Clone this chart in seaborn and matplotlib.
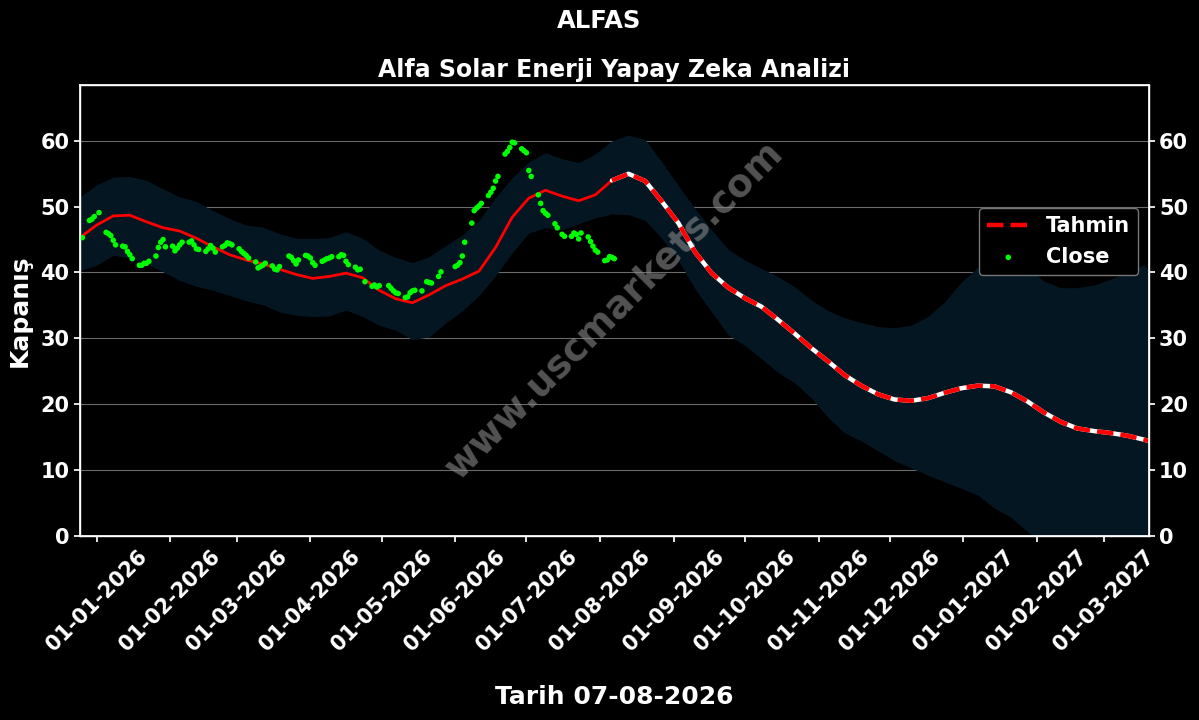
import numpy as np
import pandas as pd
import matplotlib
matplotlib.use("Agg")
import matplotlib.pyplot as plt
import matplotlib.dates as mdates
import seaborn as sns

# ---------------- data ----------------
title_main = "ALFAS"
title_sub = "Alfa Solar Enerji Yapay Zeka Analizi"
x_label = "Tarih 07-08-2026"
y_label = "Kapanış"
watermark = "www.uscmarkets.com"
forecast_label = "Tahmin"
close_label = "Close"

forecast_start = "2026-08-06"
band_dates = list(pd.date_range("2025-12-25", periods=65, freq="7D")) + [pd.Timestamp("2027-03-20")]

pred_values = [
    45.3, 47.2, 48.6, 48.7, 47.7, 46.8, 46.3, 45.2, 43.9, 42.7,
    41.9, 41.3, 40.5, 39.7, 39.1, 39.4, 39.9, 39.2, 37.3, 36.0,
    35.4, 36.6, 38.0, 39.0, 40.2, 43.8, 48.4, 51.3, 52.5, 51.6,
    50.9, 51.8, 54.0, 55.0, 53.9, 50.8, 47.5, 43.1, 39.9, 37.7,
    36.1, 34.8, 32.8, 30.7, 28.5, 26.5, 24.4, 22.8, 21.5, 20.7,
    20.5, 20.9, 21.7, 22.4, 22.8, 22.7, 21.8, 20.4, 18.7, 17.3,
    16.3, 15.9, 15.6, 15.2, 14.6, 14.4,
]
upper_values = [
    51.5, 53.3, 54.5, 54.6, 54.0, 52.7, 51.5, 50.8, 49.4, 48.2,
    47.2, 46.9, 45.9, 45.2, 45.2, 45.3, 46.2, 45.2, 43.4, 42.3,
    41.5, 42.4, 44.1, 45.7, 47.9, 51.4, 54.4, 56.8, 58.2, 57.3,
    56.7, 58.0, 60.0, 60.9, 60.2, 56.8, 53.2, 49.7, 46.5, 43.5,
    41.9, 40.6, 39.4, 37.8, 35.8, 34.2, 33.1, 32.4, 31.8, 31.6,
    32.0, 33.3, 35.5, 38.5, 40.8, 42.1, 42.0, 40.7, 38.7, 37.7,
    37.7, 38.1, 39.0, 40.0, 41.2, 40.3,
]
lower_values = [
    40.3, 41.1, 42.6, 42.2, 41.3, 40.1, 38.8, 37.9, 37.3, 36.5,
    35.7, 35.1, 34.0, 33.5, 33.3, 33.4, 34.3, 33.3, 32.0, 31.2,
    29.8, 30.2, 32.3, 34.2, 36.5, 39.5, 43.0, 46.0, 46.8, 46.5,
    47.4, 48.3, 48.9, 48.8, 47.9, 45.2, 41.8, 37.5, 34.0, 30.5,
    28.9, 26.9, 24.8, 23.2, 20.9, 18.0, 15.6, 14.4, 12.9, 11.4,
    10.3, 9.2, 8.2, 7.2, 6.2, 4.2, 2.8, 0.6, -1.5, -3.0,
    -4.5, -5.5, -6.5, -7.5, -8.5, -8.8,
]

close_holidays = ["2026-01-01", "2026-03-20", "2026-04-23", "2026-05-01", "2026-05-19",
                  "2026-05-27", "2026-05-28", "2026-05-29", "2026-07-15"]
close_dates = pd.bdate_range("2025-12-26", "2026-08-07").difference(pd.DatetimeIndex(close_holidays))
close_values = [
    # Dec
    45.3, 47.9, 48.1, 48.5,
    # Jan
    49.1, 46.1, 45.9, 45.6, 44.9, 44.2, 44.0, 43.9, 43.2, 42.7, 42.1,
    41.1, 41.1, 41.4, 41.4, 41.7, 42.5, 43.8, 44.6, 45.0, 43.9,
    # Feb
    44.0, 43.3, 43.7, 44.2, 44.6, 44.6, 44.8, 44.2, 43.6, 43.5,
    43.2, 43.6, 44.1, 43.7, 43.1, 43.9, 44.1, 44.5, 44.4, 44.2,
    # Mar
    43.6, 43.2, 42.9, 42.6, 42.2, 41.6, 40.7, 40.9, 41.1, 41.4,
    41.0, 40.5, 40.4, 40.9, 42.5, 42.3, 41.8, 41.3, 41.9, 42.6, 42.5,
    # Apr
    42.2, 41.5, 41.1, 41.7, 41.9, 42.1, 42.2, 42.4, 42.4, 42.7,
    42.6, 41.7, 41.2, 40.8, 40.4, 40.5, 38.6, 37.9, 38.1, 37.8, 38.0,
    # May
    38.0, 37.6, 37.2, 36.9, 36.8, 36.2, 36.3, 36.9, 37.2, 37.3,
    37.2, 38.6, 38.5, 38.4, 39.4, 40.1,
    # Jun
    40.9, 41.1, 41.5, 42.5, 44.6, 47.5, 49.4, 49.8, 50.1, 50.5, 51.7,
    52.2, 52.8, 53.9, 54.6, 58.0, 58.4, 59.0, 59.8, 59.7, 58.8, 58.5,
    # Jul
    58.2, 55.5, 54.6, 51.8, 50.5, 49.4, 49.0, 48.7, 47.4, 46.8, 45.8,
    45.5, 45.5, 46.0, 45.8, 45.1, 46.0, 45.4, 44.7, 44.0, 43.4, 43.1,
    # Aug
    41.8, 41.9, 42.4, 42.3, 42.1,
]

y_ticks = [0, 10, 20, 30, 40, 50, 60]
y_limits = (0, 68.5)
x_limits = (pd.Timestamp("2025-12-25"), pd.Timestamp("2027-03-20"))

# ---------------- style ----------------
sns.set_theme(style="dark", rc={
    "axes.facecolor": "black",
    "figure.facecolor": "black",
    "axes.edgecolor": "white",
    "text.color": "white",
    "axes.labelcolor": "white",
    "xtick.color": "white",
    "ytick.color": "white",
})
plt.rcParams["font.family"] = ["DejaVu Sans"]
plt.rcParams["xtick.bottom"] = True
plt.rcParams["ytick.left"] = True

pred_df = pd.DataFrame({"date": band_dates, "pred": pred_values,
                        "upper": upper_values, "lower": lower_values})
hist_df = pred_df[pred_df["date"] <= pd.Timestamp(forecast_start)]
fut_df = pred_df[pred_df["date"] >= pd.Timestamp(forecast_start)]
close_df = pd.DataFrame({"date": close_dates, "close": close_values})

fig, ax = plt.subplots(figsize=(11.99, 7.2), dpi=100)
fig.subplots_adjust(left=0.0667, right=0.958, bottom=0.256, top=0.882)

ax.fill_between(pred_df["date"], pred_df["lower"], pred_df["upper"],
                color="#041621", lw=0, zorder=1)
ax.grid(axis="y", color="#6a6a6a", lw=0.8)
ax.grid(axis="x", visible=False)

ax.text(0.5, 0.5, watermark, transform=ax.transAxes, rotation=45,
        fontsize=27, fontweight="bold", color="#8a8a8a", alpha=0.6,
        ha="center", va="center", zorder=1.6)

sns.lineplot(data=hist_df, x="date", y="pred", color="red", lw=2, ax=ax, legend=False, zorder=3)
sns.lineplot(data=fut_df, x="date", y="pred", color="white", lw=3.2, ax=ax, legend=False, zorder=3)
sns.lineplot(data=fut_df, x="date", y="pred", color="red", lw=3.2, linestyle="--",
             ax=ax, label=forecast_label, zorder=4)
sns.scatterplot(data=close_df, x="date", y="close", color="#00ff00", s=16,
                edgecolor="none", ax=ax, label=close_label, zorder=5)

ax.set_xlim(*x_limits)
ax.set_ylim(*y_limits)
ax.set_yticks(y_ticks)
ax.xaxis.set_major_locator(mdates.MonthLocator())
ax.xaxis.set_major_formatter(mdates.DateFormatter("%d-%m-%Y"))
for lbl in ax.get_xticklabels():
    lbl.set_rotation(45)
    lbl.set_fontweight("bold")
    lbl.set_fontsize(15)
for lbl in ax.get_yticklabels():
    lbl.set_fontweight("bold")
    lbl.set_fontsize(15)
ax.tick_params(colors="white", length=4)

ax.set_xlabel(x_label, fontsize=18, fontweight="bold", labelpad=22)
ax.set_ylabel(y_label, fontsize=18, fontweight="bold", labelpad=6)
ax.set_title(title_sub, fontsize=17, fontweight="bold", pad=6)
fig.suptitle(title_main, fontsize=17.5, fontweight="bold", y=0.971, va="center")

for sp in ax.spines.values():
    sp.set_color("white")
    sp.set_linewidth(1)

ax2 = ax.twinx()
ax2.set_ylim(*y_limits)
ax2.set_yticks(y_ticks)
ax2.set_yticklabels([str(t) for t in y_ticks], fontsize=15, fontweight="bold", color="white")
ax2.tick_params(colors="white", length=4)
ax2.grid(False)
for sp in ax2.spines.values():
    sp.set_color("white")

leg = ax.legend(loc="upper right", bbox_to_anchor=(1.0, 0.75),
                prop={"weight": "bold", "size": 15}, facecolor="black",
                edgecolor="#777777", framealpha=1)
for t in leg.get_texts():
    t.set_color("white")

fig.savefig("out.png", dpi=100, facecolor="black")
